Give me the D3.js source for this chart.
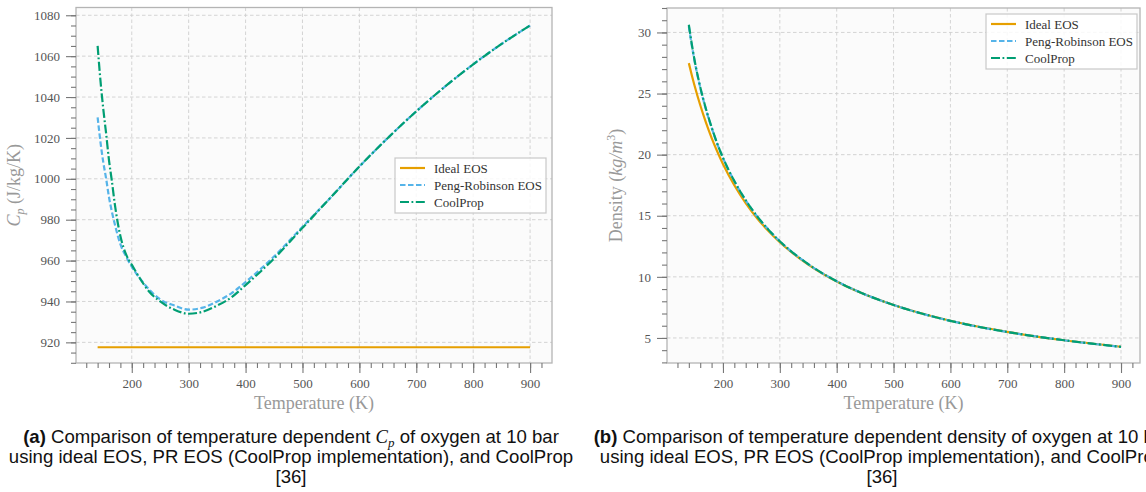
<!DOCTYPE html>
<html>
<head>
<meta charset="utf-8">
<script src="https://cdn.jsdelivr.net/npm/d3@7"></script>
<style>
  body { margin: 0; background: #fff; }
  svg { display: block; }
</style>
</head>
<body>
<div id="chart"></div>
<script>
// ------------------------------------------------------------------ //
// DATA
// ------------------------------------------------------------------ //

// panel (a): specific heat, J/kg/K
var tempCp = [140,145,150,155,160,165,170,180,190,200,215,230,250,275,300,325,350,375,400,450,500,550,600,650,700,750,800,850,900]
var cpCoolProp = [1065,1048,1034,1022,1009,999,988,972,963,958,951,945,940,936,934,935,938,942,948,961,976,991,1006,1020,1033,1045,1056,1066,1075]
var cpPengRobinson = [1030,1018,1008,1000,991,984,978,968,962,957,951,946,941,938,936,937,940,944,949.5,962,976.5,991,1006,1020,1033,1045,1056,1066,1075]
var tempCpIdeal = [140, 900]
var cpIdeal = [917.6, 917.6]

// panel (b): density, kg/m3
var tempRho = [140,145,150,160,170,180,190,200,220,240,260,280,300,350,400,450,500,600,700,800,900]
var rhoIdeal = [27.49,26.54,25.66,24.06,22.64,21.38,20.26,19.24,17.50,16.04,14.80,13.75,12.83,11.00,9.62,8.55,7.70,6.41,5.50,4.81,4.28]
var rhoPengRobinson = [30.50,29.00,27.68,25.50,23.72,22.22,20.88,19.73,17.83,16.26,14.95,13.86,12.91,11.04,9.64,8.56,7.70,6.40,5.49,4.81,4.27]
var rhoCoolProp = [30.63,29.10,27.75,25.55,23.76,22.25,20.90,19.75,17.84,16.27,14.96,13.86,12.91,11.04,9.64,8.56,7.70,6.40,5.49,4.81,4.27]

var xTicks = [200,300,400,500,600,700,800,900]
var cpTicks = [920,940,960,980,1000,1020,1040,1060,1080]
var rhoTicks = [5,10,15,20,25,30]

var seriesNames = ["Ideal EOS", "Peng-Robinson EOS", "CoolProp"]

// ------------------------------------------------------------------ //
// STYLE
// ------------------------------------------------------------------ //
var styles = {
  "Ideal EOS":         {color: "#E69F00", dash: null},
  "Peng-Robinson EOS": {color: "#56B4E9", dash: "5.5,2.5"},
  "CoolProp":          {color: "#009E73", dash: "9,2.5,1.8,2.5"}
}
var serif = "'Liberation Serif', 'Times New Roman', serif"
var sans = "'Liberation Sans', Arial, sans-serif"

var svg = d3.select("#chart")
  .append("svg")
    .attr("width", 1146)
    .attr("height", 492)

// ------------------------------------------------------------------ //
// ONE PANEL
// ------------------------------------------------------------------ //
function drawPanel(p) {
  var x = d3.scaleLinear().domain(p.xDomain).range([p.left, p.right])
  var y = d3.scaleLinear().domain(p.yDomain).range([p.bottom, p.top])
  var g = svg.append("g")

  // background
  g.append("rect")
    .attr("x", p.left).attr("y", p.top)
    .attr("width", p.right - p.left).attr("height", p.bottom - p.top)
    .style("fill", "#fbfbfb")

  // grid
  g.selectAll(".vgrid")
    .data(xTicks)
    .enter().append("line")
      .attr("x1", function(d){ return x(d) }).attr("x2", function(d){ return x(d) })
      .attr("y1", p.top).attr("y2", p.bottom)
      .style("stroke", "#cfcfcf").style("stroke-width", 0.9)
      .style("stroke-dasharray", "3.5,2.5")
  g.selectAll(".hgrid")
    .data(p.yTicks)
    .enter().append("line")
      .attr("y1", function(d){ return y(d) }).attr("y2", function(d){ return y(d) })
      .attr("x1", p.left).attr("x2", p.right)
      .style("stroke", "#cfcfcf").style("stroke-width", 0.9)
      .style("stroke-dasharray", "3.5,2.5")

  // curves
  var line = d3.line()
    .x(function(d){ return x(d[0]) })
    .y(function(d){ return y(d[1]) })
    .curve(d3.curveMonotoneX)

  p.series.forEach(function(s) {
    var st = styles[s.name]
    g.append("path")
      .datum(d3.zip(s.t, s.v))
      .attr("d", line)
      .style("fill", "none")
      .style("stroke", st.color)
      .style("stroke-width", 2.2)
      .style("stroke-dasharray", st.dash)
  })

  // frame
  g.append("rect")
    .attr("x", p.left).attr("y", p.top)
    .attr("width", p.right - p.left).attr("height", p.bottom - p.top)
    .style("fill", "none").style("stroke", "#b4b4b4").style("stroke-width", 1.3)

  // x axis
  var xAxis = g.append("g")
    .attr("transform", "translate(0," + p.bottom + ")")
    .call(d3.axisBottom(x).tickValues(d3.range(120, 940, 20)).tickSize(5).tickFormat(""))
  xAxis.append("g")
    .call(d3.axisBottom(x).tickValues(xTicks).tickSize(10).tickPadding(6).tickFormat(d3.format("d")))
  xAxis.selectAll(".domain").remove()

  // y axis
  var yAxis = g.append("g")
    .attr("transform", "translate(" + p.left + ",0)")
    .call(d3.axisLeft(y).tickValues(p.yMinor).tickSize(5).tickFormat(""))
  yAxis.append("g")
    .call(d3.axisLeft(y).tickValues(p.yTicks).tickSize(10).tickPadding(6).tickFormat(d3.format("d")))
  yAxis.selectAll(".domain").remove()

  g.selectAll(".tick line").style("stroke", "#777").style("stroke-width", 1.1)
  g.selectAll(".tick text")
    .style("font-family", serif).style("font-size", "13px").style("fill", "#555")

  // axis titles
  g.append("text")
    .attr("x", (p.left + p.right) / 2)
    .attr("y", p.bottom + 46)
    .attr("text-anchor", "middle")
    .style("font-family", serif).style("font-size", "18px").style("fill", "#999")
    .text("Temperature (K)")

  var yl = g.append("text")
    .attr("transform", "translate(" + (p.left - p.yLabelOffset) + "," + ((p.top + p.bottom) / 2) + ") rotate(-90)")
    .attr("text-anchor", "middle")
    .style("font-family", serif).style("font-size", "18px").style("fill", "#999")
  p.yLabel(yl)

  // legend
  var lg = g.append("g").attr("transform", "translate(" + p.legend[0] + "," + p.legend[1] + ")")
  lg.append("rect")
    .attr("width", 151).attr("height", 55)
    .style("fill", "#fff").style("fill-opacity", 0.85)
    .style("stroke", "#c8c8c8").style("stroke-width", 1.2)
  seriesNames.forEach(function(n, i) {
    var st = styles[n]
    lg.append("line")
      .attr("x1", 5).attr("x2", 30)
      .attr("y1", 10 + i * 17).attr("y2", 10 + i * 17)
      .style("stroke", st.color).style("stroke-width", 2.2)
      .style("stroke-dasharray", st.dash)
    lg.append("text")
      .attr("x", 39).attr("y", 10 + i * 17)
      .attr("dy", "0.35em")
      .style("font-family", serif).style("font-size", "13px").style("fill", "#333")
      .text(n)
  })

  // caption
  var cap = svg.append("g").style("font-family", sans).style("font-size", "18.6px").style("fill", "#111")
  p.caption.forEach(function(c, i) {
    var t = cap.append("text")
      .attr("x", p.captionX).attr("y", 443 + i * 20)
      .attr("text-anchor", "middle")
    c(t)
  })
}

// ------------------------------------------------------------------ //
// PANELS
// ------------------------------------------------------------------ //
drawPanel({
  left: 76, right: 552, top: 7.5, bottom: 363,
  xDomain: [102, 938.5],
  yDomain: [909.9, 1083.8],
  yTicks: cpTicks,
  yMinor: d3.range(910, 1081, 5),
  yLabelOffset: 56,
  yLabel: function(t) {
    t.append("tspan").style("font-style", "italic").text("C")
    t.append("tspan").style("font-style", "italic").style("font-size", "12px").attr("dy", 4).text("p")
    t.append("tspan").attr("dy", -4).text(" (J/kg/K)")
  },
  legend: [395, 158],
  series: [
    {name: "Ideal EOS", t: tempCpIdeal, v: cpIdeal},
    {name: "Peng-Robinson EOS", t: tempCp, v: cpPengRobinson},
    {name: "CoolProp", t: tempCp, v: cpCoolProp}
  ],
  captionX: 291,
  caption: [
    function(t) {
      t.append("tspan").style("font-weight", "bold").text("(a)")
      t.append("tspan").text(" Comparison of temperature dependent ")
      t.append("tspan").style("font-family", serif).style("font-style", "italic").text("C")
      t.append("tspan").style("font-family", serif).style("font-style", "italic").style("font-size", "13px").attr("dy", 4).text("p")
      t.append("tspan").attr("dy", -4).text(" of oxygen at 10 bar")
    },
    function(t) { t.text("using ideal EOS, PR EOS (CoolProp implementation), and CoolProp") },
    function(t) { t.text("[36]") }
  ]
})

drawPanel({
  left: 667, right: 1140, top: 8, bottom: 363,
  xDomain: [101.6, 933.4],
  yDomain: [2.95, 32.0],
  yTicks: rhoTicks,
  yMinor: d3.range(3, 33, 1),
  yLabelOffset: 45,
  yLabel: function(t) {
    t.append("tspan").text("Density (")
    t.append("tspan").style("font-style", "italic").text("kg/m")
    t.append("tspan").style("font-size", "12px").attr("dy", -7).text("3")
    t.append("tspan").attr("dy", 7).text(")")
  },
  legend: [986, 14],
  series: [
    {name: "Ideal EOS", t: tempRho, v: rhoIdeal},
    {name: "Peng-Robinson EOS", t: tempRho, v: rhoPengRobinson},
    {name: "CoolProp", t: tempRho, v: rhoCoolProp}
  ],
  captionX: 882,
  caption: [
    function(t) {
      t.append("tspan").style("font-weight", "bold").text("(b)")
      t.append("tspan").text(" Comparison of temperature dependent density of oxygen at 10 bar")
    },
    function(t) { t.text("using ideal EOS, PR EOS (CoolProp implementation), and CoolProp") },
    function(t) { t.text("[36]") }
  ]
})
</script>
</body>
</html>
